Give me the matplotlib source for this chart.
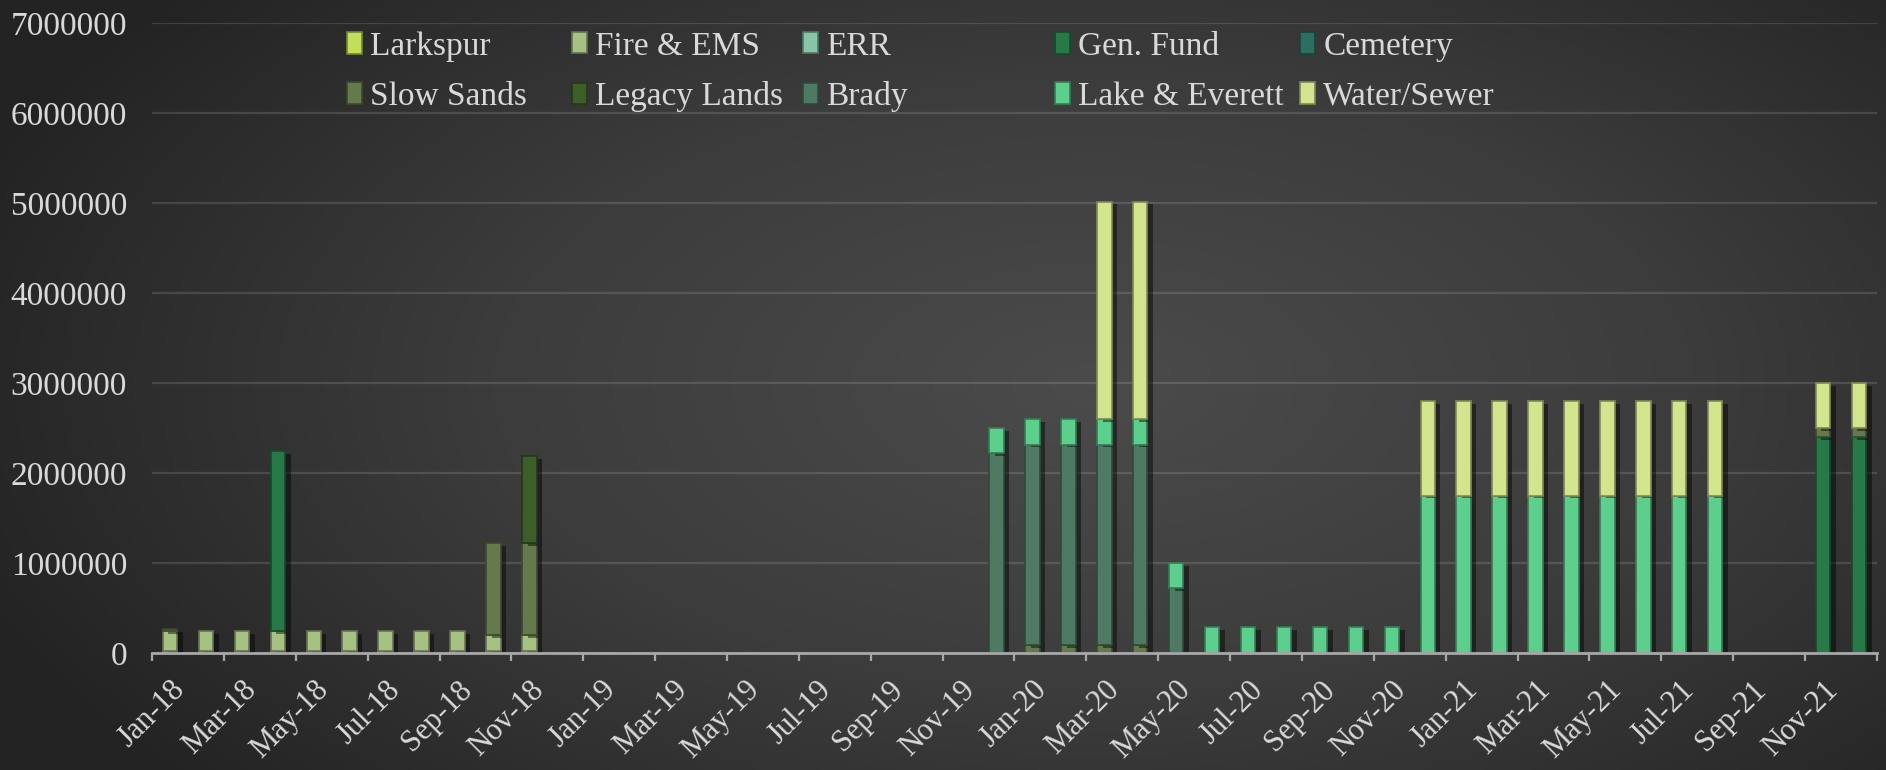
import numpy as np
import matplotlib
matplotlib.use("Agg")
import matplotlib.pyplot as plt
import matplotlib.patheffects as pe
from matplotlib.colors import LinearSegmentedColormap, to_rgb
from matplotlib.patches import Patch

plt.rcParams['font.family'] = ['Liberation Serif', 'DejaVu Serif']

months = ["Jan-18", "Feb-18", "Mar-18", "Apr-18", "May-18", "Jun-18", "Jul-18", "Aug-18", "Sep-18", "Oct-18", "Nov-18", "Dec-18",
          "Jan-19", "Feb-19", "Mar-19", "Apr-19", "May-19", "Jun-19", "Jul-19", "Aug-19", "Sep-19", "Oct-19", "Nov-19", "Dec-19",
          "Jan-20", "Feb-20", "Mar-20", "Apr-20", "May-20", "Jun-20", "Jul-20", "Aug-20", "Sep-20", "Oct-20", "Nov-20", "Dec-20",
          "Jan-21", "Feb-21", "Mar-21", "Apr-21", "May-21", "Jun-21", "Jul-21", "Aug-21", "Sep-21", "Oct-21", "Nov-21", "Dec-21"]

# one row per year (2018, 2019, 2020, 2021)
larkspur = [25000, 25000, 25000, 25000, 25000, 25000, 25000, 25000, 25000, 25000, 25000, 0,
            0, 0, 0, 0, 0, 0, 0, 0, 0, 0, 0, 0,
            0, 0, 0, 0, 0, 0, 0, 0, 0, 0, 0, 0,
            0, 0, 0, 0, 0, 0, 0, 0, 0, 0, 0, 0]
fire_ems = [215000, 215000, 215000, 215000, 215000, 215000, 215000, 215000, 215000, 175000, 175000, 0,
            0, 0, 0, 0, 0, 0, 0, 0, 0, 0, 0, 0,
            0, 0, 0, 0, 0, 0, 0, 0, 0, 0, 0, 0,
            0, 0, 0, 0, 0, 0, 0, 0, 0, 0, 0, 0]
err = [0] * 48
gen_fund = [0, 0, 0, 2000000, 0, 0, 0, 0, 0, 0, 0, 0,
            0, 0, 0, 0, 0, 0, 0, 0, 0, 0, 0, 0,
            0, 0, 0, 0, 0, 0, 0, 0, 0, 0, 0, 0,
            0, 0, 0, 0, 0, 0, 0, 0, 0, 0, 2400000, 2400000]
cemetery = [0] * 48
slow_sands = [30000, 0, 0, 0, 0, 0, 0, 0, 0, 1020000, 1020000, 0,
              0, 0, 0, 0, 0, 0, 0, 0, 0, 0, 0, 0,
              85000, 85000, 85000, 85000, 0, 0, 0, 0, 0, 0, 0, 0,
              0, 0, 0, 0, 0, 0, 0, 0, 0, 0, 95000, 95000]
legacy_lands = [0, 0, 0, 0, 0, 0, 0, 0, 0, 0, 970000, 0,
                0, 0, 0, 0, 0, 0, 0, 0, 0, 0, 0, 0,
                0, 0, 0, 0, 0, 0, 0, 0, 0, 0, 0, 0,
                0, 0, 0, 0, 0, 0, 0, 0, 0, 0, 0, 0]
brady = [0, 0, 0, 0, 0, 0, 0, 0, 0, 0, 0, 0,
         0, 0, 0, 0, 0, 0, 0, 0, 0, 0, 0, 2220000,
         2230000, 2230000, 2230000, 2230000, 720000, 0, 0, 0, 0, 0, 0, 0,
         0, 0, 0, 0, 0, 0, 0, 0, 0, 0, 0, 0]
lake_everett = [0, 0, 0, 0, 0, 0, 0, 0, 0, 0, 0, 0,
                0, 0, 0, 0, 0, 0, 0, 0, 0, 0, 0, 280000,
                280000, 280000, 280000, 280000, 280000, 290000, 290000, 290000, 290000, 290000, 290000, 1750000,
                1750000, 1750000, 1750000, 1750000, 1750000, 1750000, 1750000, 1750000, 0, 0, 0, 0]
water_sewer = [0, 0, 0, 0, 0, 0, 0, 0, 0, 0, 0, 0,
               0, 0, 0, 0, 0, 0, 0, 0, 0, 0, 0, 0,
               0, 0, 2420000, 2420000, 0, 0, 0, 0, 0, 0, 0, 1050000,
               1050000, 1050000, 1050000, 1050000, 1050000, 1050000, 1050000, 1050000, 0, 0, 500000, 500000]

names = ["Larkspur", "Fire & EMS", "ERR", "Gen. Fund", "Cemetery",
         "Slow Sands", "Legacy Lands", "Brady", "Lake & Everett", "Water/Sewer"]
series = [larkspur, fire_ems, err, gen_fund, cemetery,
          slow_sands, legacy_lands, brady, lake_everett, water_sewer]
colors = ["#c3de5a", "#a6c283", "#86c6a6", "#277a48", "#2a6f60",
          "#647a4c", "#3c5e28", "#4e7a64", "#5ccf8c", "#d2e58c"]


def darker(c, f=0.6):
    r, g, b = to_rgb(c)
    return (r * f, g * f, b * f)


fig = plt.figure(figsize=(18.86, 7.70), dpi=100)
fig.patch.set_facecolor("#333333")

# dark gradient backdrop
bg = fig.add_axes([0, 0, 1, 1], zorder=-10)
bg.axis("off")
yy, xx = np.mgrid[0:1:300j, 0:1:700j]
r = np.sqrt(((xx - 0.58) / 0.75) ** 2 + ((yy - 0.5) / 0.95) ** 2)
cm = LinearSegmentedColormap.from_list("bg", ["#4b4b4b", "#3c3c3c", "#232323"])
bg.imshow(r, cmap=cm, extent=[0, 1, 0, 1], aspect="auto", vmin=0, vmax=0.85, origin="lower")

ax = fig.add_axes([0.0806, 0.1519, 0.9146, 0.8182])
ax.set_facecolor("none")

x = np.arange(len(months))
bottom = np.zeros(len(months))
shadow = [pe.SimplePatchShadow(offset=(4, -2), shadow_rgbFace="black", alpha=0.45), pe.Normal()]
for name, vals, c in zip(names, series, colors):
    vals = np.array(vals, dtype=float)
    m = vals > 0
    if m.any():
        ax.bar(x[m], vals[m], 0.4, bottom=bottom[m], color=c, edgecolor=darker(c),
               linewidth=1.2, zorder=3, path_effects=shadow)
    bottom += vals

ax.set_xlim(-0.5, 47.5)
ax.set_ylim(0, 7000000)
ax.set_yticks(np.arange(0, 7000001, 1000000))
ax.set_yticklabels([str(v) for v in range(0, 7000001, 1000000)])
ax.grid(axis="y", color="#ffffff", alpha=0.13, linewidth=1.6, zorder=0)
ax.set_axisbelow(True)

for s in ["top", "right", "left"]:
    ax.spines[s].set_visible(False)
ax.spines["bottom"].set_color("#a8a8a8")
ax.spines["bottom"].set_linewidth(2)
ax.spines["bottom"].set_zorder(4)

ax.set_xticks(x[::2])
ax.set_xticklabels(months[::2], rotation=45, ha="right", va="top", rotation_mode="anchor")
ax.set_xticks(np.arange(-0.5, 48, 2), minor=True)
ax.tick_params(axis="x", which="major", length=0, pad=16, labelsize=22, labelcolor="#d9d9d9")
ax.tick_params(axis="x", which="minor", length=6, width=1.6, color="#a8a8a8", direction="out")
ax.tick_params(axis="y", length=0, pad=18, labelsize=24, labelcolor="#d9d9d9")

# legend laid out as five fixed-width columns, two rows
cols = [(0, 5), (1, 6), (2, 7), (3, 8), (4, 9)]
col_x = [347, 572, 803, 1055, 1300]
for (a, b), cx in zip(cols, col_x):
    hs = [Patch(facecolor=colors[k], edgecolor=darker(colors[k]), linewidth=1.2) for k in (a, b)]
    fig.legend(hs, [names[a], names[b]], loc="center left", bbox_to_anchor=(cx / 1886, 1 - 71.5 / 770),
               frameon=False, fontsize=24, labelcolor="#d9d9d9", handlelength=0.45, handleheight=0.6,
               handletextpad=0.25, labelspacing=0.58, borderpad=0, borderaxespad=0)

fig.savefig("out.png", dpi=100, facecolor=fig.get_facecolor())
